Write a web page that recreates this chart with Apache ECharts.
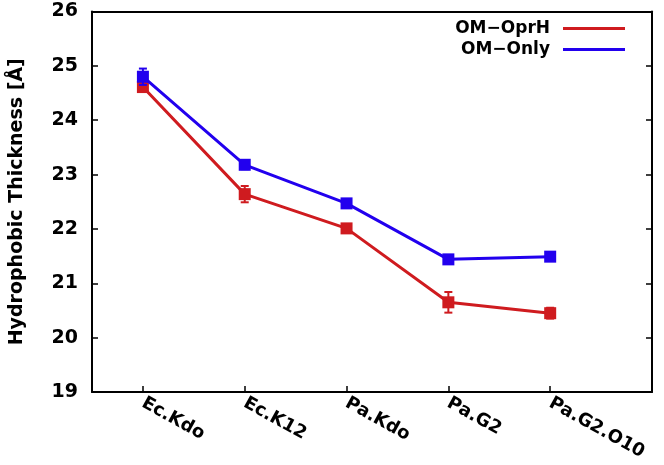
<!DOCTYPE html>
<html>
<head>
<meta charset="utf-8">
<script src="https://cdn.jsdelivr.net/npm/echarts@6/dist/echarts.min.js"></script>
<style>
  html, body { margin: 0; padding: 0; background: #fff; }
  #myChart { width: 664px; height: 465px; }
</style>
</head>
<body>
<div id="myChart"></div>
<script>
// data
const categories = ['Ec.Kdo', 'Ec.K12', 'Pa.Kdo', 'Pa.G2', 'Pa.G2.O10']
const oprH = [24.61, 22.64, 22.01, 20.65, 20.45]
const oprHErr = [0.08, 0.15, 0.03, 0.19, 0.10]
const only = [24.80, 23.18, 22.47, 21.44, 21.49]
const onlyErr = [0.15, 0.08, 0.07, 0.04, 0.04]
const yTicks = [19, 20, 21, 22, 23, 24, 25, 26]

const RED = '#cf1b1f'
const BLUE = '#2200ee'
const FONT = 'DejaVu Sans'

function points(vals) {
  return vals.map((v, i) => [i + 1, v])
}

function errData(vals, errs) {
  return vals.map((v, i) => [i + 1, v - errs[i], v + errs[i]])
}

function errRender(color) {
  return function (params, api) {
    const lo = api.coord([api.value(0), api.value(1)])
    const hi = api.coord([api.value(0), api.value(2)])
    const cap = 4
    const style = {stroke: color, lineWidth: 2}
    return {
      type: 'group',
      children: [
        {type: 'line', shape: {x1: lo[0], y1: lo[1], x2: hi[0], y2: hi[1]}, style: style},
        {type: 'line', shape: {x1: lo[0] - cap, y1: lo[1], x2: lo[0] + cap, y2: lo[1]}, style: style},
        {type: 'line', shape: {x1: hi[0] - cap, y1: hi[1], x2: hi[0] + cap, y2: hi[1]}, style: style}
      ]
    }
  }
}

let myChart = echarts.init(document.getElementById('myChart'))
myChart.setOption({
  animation: false,
  grid: {left: 92, top: 11.5, right: 12, bottom: 73},
  legend: {
    orient: 'vertical',
    align: 'right',
    right: 34,
    top: 15,
    itemGap: 4,
    itemWidth: 62,
    itemHeight: 3,
    textStyle: {fontFamily: FONT, fontWeight: 'bold', fontSize: 17, color: '#000', padding: [0, 8, 0, 0]},
    data: [
      {name: 'OM\u2212OprH', icon: 'rect', itemStyle: {color: RED}},
      {name: 'OM\u2212Only', icon: 'rect', itemStyle: {color: BLUE}}
    ]
  },
  xAxis: [
    {
      type: 'value',
      min: 0.5,
      max: 6,
      interval: 1,
      splitLine: {show: false},
      axisLine: {onZero: false, lineStyle: {color: '#000', width: 2}},
      axisTick: {
        inside: true,
        length: 6,
        lineStyle: {color: '#000', width: 1.5},
        customValues: [1, 2, 3, 4, 5]
      },
      axisLabel: {
        customValues: [1, 2, 3, 4, 5],
        formatter: v => categories[v - 1] || '',
        rotate: -29,
        margin: 10,
        fontFamily: FONT,
        fontWeight: 'bold',
        fontSize: 18,
        color: '#000'
      }
    },
    {
      type: 'value',
      position: 'top',
      min: 0.5,
      max: 6,
      splitLine: {show: false},
      axisLine: {show: true, onZero: false, lineStyle: {color: '#000', width: 2}},
      axisTick: {show: false},
      axisLabel: {show: false}
    }
  ],
  yAxis: [
    {
      type: 'value',
      min: 19,
      max: 26,
      interval: 1,
      name: 'Hydrophobic Thickness [\u00c5]',
      nameLocation: 'middle',
      nameGap: 65,
      nameTextStyle: {fontFamily: FONT, fontWeight: 'bold', fontSize: 19, color: '#000'},
      splitLine: {show: false},
      axisLine: {show: true, onZero: false, lineStyle: {color: '#000', width: 2}},
      axisTick: {inside: true, length: 6, lineStyle: {color: '#000', width: 1.5}},
      axisLabel: {
        margin: 14,
        formatter: v => yTicks.includes(v) ? String(v) : '',
        fontFamily: FONT,
        fontWeight: 'bold',
        fontSize: 19,
        color: '#000'
      }
    },
    {
      type: 'value',
      position: 'right',
      min: 19,
      max: 26,
      interval: 1,
      splitLine: {show: false},
      axisLine: {show: true, onZero: false, lineStyle: {color: '#000', width: 2}},
      axisTick: {show: true, inside: true, length: 6, lineStyle: {color: '#000', width: 1.5}},
      axisLabel: {show: false}
    }
  ],
  series: [
    {
      name: 'OM\u2212OprH',
      type: 'line',
      data: points(oprH),
      symbol: 'rect',
      symbolSize: 12,
      lineStyle: {color: RED, width: 3},
      itemStyle: {color: RED},
      z: 2
    },
    {
      type: 'custom',
      data: errData(oprH, oprHErr),
      renderItem: errRender(RED),
      z: 2
    },
    {
      name: 'OM\u2212Only',
      type: 'line',
      data: points(only),
      symbol: 'rect',
      symbolSize: 12,
      lineStyle: {color: BLUE, width: 3},
      itemStyle: {color: BLUE},
      z: 3
    },
    {
      type: 'custom',
      data: errData(only, onlyErr),
      renderItem: errRender(BLUE),
      z: 3
    }
  ]
})
</script>
</body>
</html>
